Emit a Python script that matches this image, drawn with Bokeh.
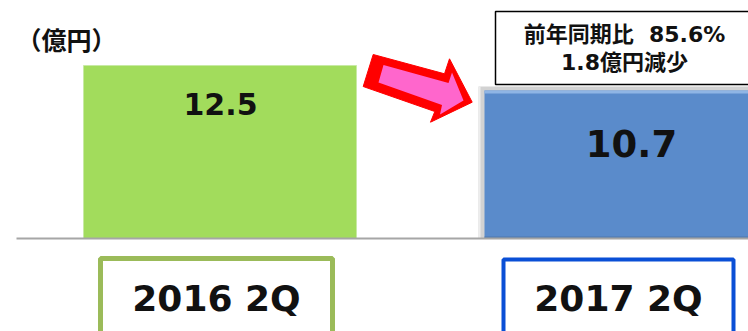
from bokeh.plotting import figure
from bokeh.models import Range1d
from bokeh.core.properties import value
from bokeh.embed import file_html
from bokeh.resources import INLINE

# ---- data ----
unit_label = "（億円）"
categories = ["2016 2Q", "2017 2Q"]
sales = [12.5, 10.7]
value_labels = ["12.5", "10.7"]
note_lines = ["前年同期比\u00a0\u00a085.6%", "1.8億円減少"]

# ---- layout ----
W, H = 748, 331
BASE = 238          # baseline, px from top
K = 13.84           # px per unit
LAT = value("DejaVu Sans, Noto Sans CJK JP")
CJK = value("Noto Sans CJK JP")

p = figure(width=W, height=H, x_range=Range1d(0, W),
           y_range=Range1d(-(H - BASE) / K, BASE / K),
           output_backend="svg", toolbar_location=None, min_border=0,
           outline_line_color=None, background_fill_color="white",
           border_fill_color="white")
p.axis.visible = False
p.grid.visible = False
p.extra_y_ranges = {"px": Range1d(H, 0)}

# green bar (2016)
p.vbar(x=[219.5], top=[sales[0]], bottom=0, width=273,
       fill_color="#A2DC5C", line_color="#C8EAA4", line_width=1)

# blue bar (2017) with bevel
p.quad(left=[478], right=[762], bottom=[0], top=[sales[1] + 4 / K],
       fill_color="#D2D2D2", line_color=None)
p.quad(left=[478], right=[480], bottom=[0], top=[sales[1] + 4 / K],
       fill_color="#EDEDED", line_color=None)
p.quad(left=[484], right=[762], bottom=[0], top=[sales[1]],
       fill_color="#5A8BCB", line_color=None)
p.quad(left=[484], right=[762], bottom=[sales[1] - 3 / K], top=[sales[1]],
       fill_color="#8FB5E5", line_color=None)
p.quad(left=[484], right=[762], bottom=[0], top=[2 / K],
       fill_color="#4F78AD", line_color=None)

# baseline
p.segment(x0=[16], x1=[W], y0=[0], y1=[0], line_color="#A6A6A6", line_width=2)

# value labels
p.text(x=[220], y=[sales[0]], text=[value_labels[0]], y_offset=[38],
       text_align="center", text_baseline="middle", text_font=LAT,
       text_font_style="bold", text_font_size="30px", text_color="#111111")
p.text(x=[631], y=[sales[1]], text=[value_labels[1]], y_offset=[53],
       text_align="center", text_baseline="middle", text_font=LAT,
       text_font_style="bold", text_font_size="37px", text_color="#111111")

# category boxes
p.quad(left=[100], right=[332], top=[258], bottom=[345], y_range_name="px",
       fill_color="white", line_color="#9BBB59", line_width=5)
p.quad(left=[503], right=[733], top=[259], bottom=[345], y_range_name="px",
       fill_color="white", line_color="#0A4FD6", line_width=4)
p.text(x=[216, 618], y=[298, 298], text=categories, y_range_name="px",
       text_align="center", text_baseline="middle", text_font=LAT,
       text_font_style="bold", text_font_size="36px", text_color="#111111")

# unit label
p.text(x=[66], y=[38], text=[unit_label], y_range_name="px",
       text_align="center", text_baseline="middle", text_font=CJK,
       text_font_style="bold", text_font_size="25px", text_color="#111111")

# annotation box
p.quad(left=[495], right=[752], top=[11], bottom=[84], y_range_name="px",
       fill_color="white", line_color="black", line_width=1.5)
p.text(x=[624, 624], y=[34, 62], text=note_lines, y_range_name="px",
       text_align="center", text_baseline="middle", text_font=LAT,
       text_font_style="bold", text_font_size="22px", text_color="#111111")

# block arrow
ax = [372.7, 444.0, 449.0, 471.7, 430.0, 434.3, 362.7]
ay = [54.0, 73.3, 58.3, 101.7, 121.7, 111.0, 86.0]
p.patch(ax, ay, y_range_name="px", fill_color="#FF0000", line_color="#FF0000",
        line_width=1)
bx = [383.0, 448.0, 451.5, 463.0, 439.5, 441.5, 378.0]
by = [64.5, 82.5, 72.0, 100.0, 114.0, 104.5, 82.0]
p.patch(bx, by, y_range_name="px", fill_color="#FF66CC", line_color=None)

open("out.html", "w").write(file_html(p, INLINE))
